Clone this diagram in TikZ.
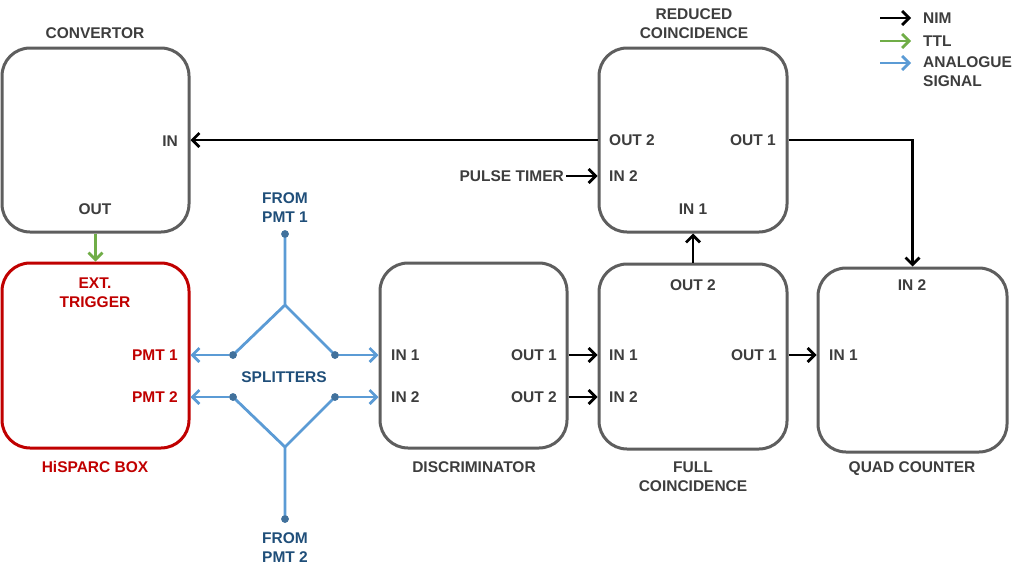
\documentclass[tikz,border=0pt]{standalone}
\usepackage{fontspec}
\setmainfont{Liberation Sans}
\usetikzlibrary{arrows.meta}
\definecolor{boxgray}{HTML}{5E5E5E}
\definecolor{txtgray}{HTML}{3D3D3D}
\definecolor{hred}{HTML}{C00000}
\definecolor{sigblue}{HTML}{5B9BD5}
\definecolor{dotblue}{HTML}{41719C}
\definecolor{txtblue}{HTML}{1F4E79}
\definecolor{ttlgreen}{HTML}{70AD47}
\tikzset{
  unitbox/.style={draw=boxgray, line width=3pt, rounded corners=28pt, minimum width=187pt, minimum height=184pt, inner sep=0pt, fill=white},
  lbl/.style={font=\fontsize{15.5}{19}\selectfont\bfseries, text=txtgray, inner sep=0pt, align=center},
  tipa/.tip={Straight Barb[length=7pt,width=14pt]},
  nim/.style={draw=black, line width=2.8pt, -tipa},
  ttl/.style={draw=ttlgreen, line width=2.8pt, -tipa},
  sig/.style={draw=sigblue, line width=2.8pt, -tipa},
  sigline/.style={draw=sigblue, line width=2.8pt},
  sdot/.style={circle, fill=dotblue, minimum size=7.5pt, inner sep=0pt},
}
\begin{document}
\begin{tikzpicture}[x=1pt,y=-1pt]
\useasboundingbox (0,0) rectangle (1027,573);

% boxes
\node[unitbox] (conv) at (95.5,140) {};
\node[unitbox, draw=hred, minimum height=185pt] (hisparc) at (95.5,355.5) {};
\node[unitbox, minimum width=188pt] (reduced) at (693,140) {};
\node[unitbox, minimum height=185pt] (disc) at (473.5,355.5) {};
\node[unitbox, minimum width=188pt, minimum height=185pt] (full) at (693,356.5) {};
\node[unitbox, minimum width=189pt] (quad) at (912.5,360) {};

% titles
\node[lbl] (convtitle) at (95,33) {CONVERTOR};
\node[lbl, text=hred] (hisparctitle) at (95,467) {HiSPARC BOX};
\node[lbl] (redtitle) at (694,24) {REDUCED\\COINCIDENCE};
\node[lbl] (disctitle) at (474,467) {DISCRIMINATOR};
\node[lbl] (fulltitle) at (693,477) {FULL\\COINCIDENCE};
\node[lbl, text depth=0pt] (quadtitle) at (912,467) {QUAD COUNTER};

% port labels
\node[lbl, anchor=east] (convin) at (178,141) {IN};
\node[lbl] (convout) at (95,209) {OUT};
\node[lbl, text=hred] (exttrig) at (95,292.5) {EXT.\\TRIGGER};
\node[lbl, text=hred, anchor=east] (pmt1) at (178,355) {PMT 1};
\node[lbl, text=hred, anchor=east] (pmt2) at (178,397) {PMT 2};

\node[lbl, anchor=west] (rout2) at (609,140) {OUT 2};
\node[lbl, anchor=west] (rin2) at (609,176) {IN 2};
\node[lbl] (rin1) at (693,209) {IN 1};
\node[lbl, anchor=east] (rout1) at (776,140) {OUT 1};
\node[lbl, anchor=east] (pulse) at (564,176) {PULSE TIMER};

\node[lbl, anchor=west] (din1) at (391,355) {IN 1};
\node[lbl, anchor=west] (din2) at (391,397) {IN 2};
\node[lbl, anchor=east] (dout1) at (557,355) {OUT 1};
\node[lbl, anchor=east] (dout2) at (557,397) {OUT 2};

\node[lbl] (fout2) at (693,285) {OUT 2};
\node[lbl, anchor=west] (fin1) at (609,355) {IN 1};
\node[lbl, anchor=west] (fin2) at (609,397) {IN 2};
\node[lbl, anchor=east] (fout1) at (777,355) {OUT 1};

\node[lbl] (qin2) at (912,285) {IN 2};
\node[lbl, anchor=west] (qin1) at (829,355) {IN 1};

% splitters
\node[lbl, text=txtblue] (from1) at (285,208) {FROM\\PMT 1};
\node[lbl, text=txtblue] (from2) at (285,547.5) {FROM\\PMT 2};
\node[lbl, text=txtblue] (splitters) at (284,377) {SPLITTERS};
\coordinate (jt) at (285,305);
\coordinate (jb) at (285,447);
\node[sdot] (dtop) at (285,234) {};
\node[sdot] (dbot) at (285,519) {};
\node[sdot] (dl1) at (233,355) {};
\node[sdot] (dr1) at (335,355) {};
\node[sdot] (dl2) at (233,397) {};
\node[sdot] (dr2) at (335,397) {};
\draw[sigline] (dtop.center) -- (jt) -- (dl1.center);
\draw[sigline] (jt) -- (dr1.center);
\draw[sigline] (dbot.center) -- (jb) -- (dl2.center);
\draw[sigline] (jb) -- (dr2.center);
\draw[sig] (dl1) -- (hisparc.east |- dl1);
\draw[sig] (dl2) -- (hisparc.east |- dl2);
\draw[sig] (dr1) -- (disc.west |- dr1);
\draw[sig] (dr2) -- (disc.west |- dr2);
\foreach \d in {dtop,dbot,dl1,dr1,dl2,dr2} \node[sdot] at (\d) {};

% NIM connections
\draw[nim] (reduced.west |- rout2) -- (conv.east |- rout2);
\draw[nim] (pulse.east) ++(2,0) coordinate (pt) (pt) -- (reduced.west |- pulse);
\draw[nim] (reduced.east |- rout1) -| (quad.north);
\draw[nim] (full.north) -- (reduced.south);
\draw[nim] (disc.east |- din1) -- (full.west |- din1);
\draw[nim] (disc.east |- din2) -- (full.west |- din2);
\draw[nim] (full.east |- fin1) -- (quad.west |- fin1);

% TTL
\draw[ttl] (conv.south) -- (hisparc.north);

% legend
\coordinate (l1a) at (880,18); \coordinate (l1b) at (911,18);
\coordinate (l2a) at (880,41); \coordinate (l2b) at (911,41);
\coordinate (l3a) at (880,63); \coordinate (l3b) at (911,63);
\draw[nim] (l1a) -- (l1b);
\draw[ttl] (l2a) -- (l2b);
\draw[sig] (l3a) -- (l3b);
\node[lbl, anchor=west] (lnim) at (923,18) {NIM};
\node[lbl, anchor=west] (lttl) at (923,41) {TTL};
\node[lbl, anchor=north west, align=left] (lsig) at (923,56) {ANALOGUE\\SIGNAL};
\end{tikzpicture}
\end{document}
